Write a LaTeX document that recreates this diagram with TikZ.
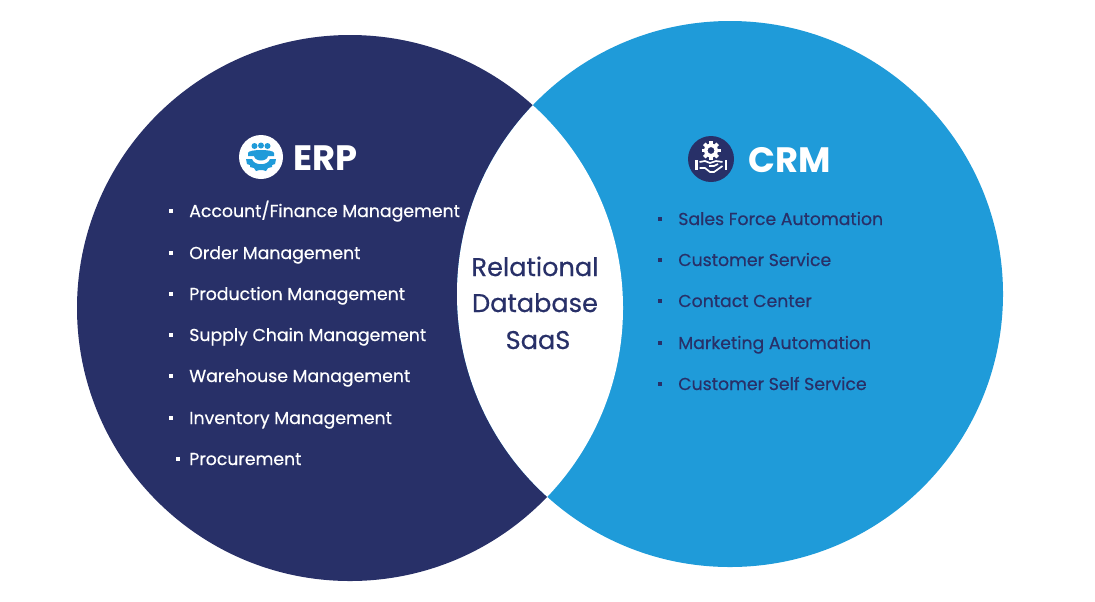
\documentclass[tikz,border=0pt]{standalone}
\usepackage{fontspec}
\setmainfont{Poppins}
\newfontfamily\mediumfont[FakeBold=0.5]{Poppins}
\definecolor{navy}{HTML}{283068}
\definecolor{skyblue}{HTML}{1F9BD9}
\tikzset{
  erpitem/.style={anchor=base west,inner sep=0pt,text=white,font=\mediumfont\fontsize{12.3}{14}\selectfont},
  crmitem/.style={anchor=base west,inner sep=0pt,text=navy,font=\mediumfont\fontsize{12.3}{14}\selectfont},
  erpdot/.style={fill=white,inner sep=0pt,minimum size=2.6pt},
  crmdot/.style={fill=navy,inner sep=0pt,minimum size=2.6pt},
  headtext/.style={anchor=base west,inner sep=0pt,text=white,font=\fontsize{25.1}{28}\selectfont\bfseries},
  lenstext/.style={anchor=base,inner sep=0pt,text=navy,font=\mediumfont\fontsize{18.2}{20}\selectfont}
}
\begin{document}
\begin{tikzpicture}[x=.025cm,y=-.025cm]
\useasboundingbox (0,0) rectangle (1095,601);
%
\fill[navy] (350,308) circle (273);
\fill[skyblue] (730,294) circle (273);
\begin{scope}
\clip (350,308) circle (273);
\fill[white] (730,294) circle (273);
\end{scope}
%
             \node [headtext] at (293,170) (erp) {ERP};
             \node [headtext] at (748,172) (crm) {CRM};
%
             \node [erpitem] at (189,217) (account) {Account/Finance Management};
             \node [erpitem] at (189,259) (order) {Order Management};
             \node [erpitem] at (189,300) (production) {Production Management};
             \node [erpitem] at (189,341) (supply) {Supply Chain Management};
             \node [erpitem] at (189,382) (warehouse) {Warehouse Management};
             \node [erpitem] at (189,424) (inventory) {Inventory Management};
             \node [erpitem] at (189,465) (procurement) {Procurement};
%
             \node [erpdot] at (171,211) (dota) {};
             \node [erpdot] at (171,253) (dotb) {};
             \node [erpdot] at (171,294) (dotc) {};
             \node [erpdot] at (171,335) (dotd) {};
             \node [erpdot] at (171,376) (dote) {};
             \node [erpdot] at (171,418) (dotf) {};
             \node [erpdot] at (178,459) (dotg) {};
%
             \node [crmitem] at (678,225) (sales) {Sales Force Automation};
             \node [crmitem] at (678,266) (service) {Customer Service};
             \node [crmitem] at (678,307) (contact) {Contact Center};
             \node [crmitem] at (678,349) (marketing) {Marketing Automation};
             \node [crmitem] at (678,390) (self) {Customer Self Service};
%
             \node [crmdot] at (660,219) (doth) {};
             \node [crmdot] at (660,260) (doti) {};
             \node [crmdot] at (660,301) (dotj) {};
             \node [crmdot] at (660,343) (dotk) {};
             \node [crmdot] at (660,384) (dotl) {};
%
             \node [lenstext] at (535,276) (relational) {Relational};
             \node [lenstext] at (535,312) (database) {Database};
             \node [lenstext] at (538,349) (saas) {SaaS};
%
% ERP icon
\begin{scope}[shift={(261,157)}]
\fill[white] (0,0) circle (22);
\fill[skyblue] (-6.5,-11) circle (3);
\fill[skyblue] (0,-11.5) circle (3);
\fill[skyblue] (6.5,-11) circle (3);
\fill[skyblue] (-13,-1) -- (-13,-4) .. controls (-13,-8) and (13,-8) .. (13,-4) -- (13,-1) -- (7,-1) .. controls (6,5) and (-6,5) .. (-7,-1) -- cycle;
\fill[skyblue] (-15,2) -- (-9,2) .. controls (-7,9) and (7,9) .. (9,2) -- (15,2) -- (14,7) -- (11,8) -- (11,10) -- (7,11) -- (5,14) -- (1.5,13) -- (-1.5,13) -- (-5,14) -- (-7,11) -- (-11,10) -- (-11,8) -- (-14,7) -- cycle;
\end{scope}
%
% CRM icon
\begin{scope}[shift={(711,159)}]
\fill[navy] (0,0) circle (23);
\foreach \ang in {0,45,...,315}
  \fill[white,rotate around={\ang:(0,-8.5)}] (-1.8,-18) rectangle (1.8,-14.5);
\fill[white,even odd rule] (0,-8.5) circle (7) (0,-8.5) circle (3.5);
\fill[white] (-16,1) rectangle (-13.5,11);
\fill[white] (13.5,1) rectangle (16,11);
\draw[white,line width=1.2pt,line join=round] (-11.5,3) -- (-6,2) -- (-1,4) -- (5,2) -- (11.5,3);
\draw[white,line width=1.2pt,line join=round] (-11.5,9) -- (-6,9) -- (-1,13) -- (3,13) -- (11.5,7);
\draw[white,line width=1.2pt] (-2,7) -- (3,7) -- (7,5);
\end{scope}
\end{tikzpicture}
\end{document}
